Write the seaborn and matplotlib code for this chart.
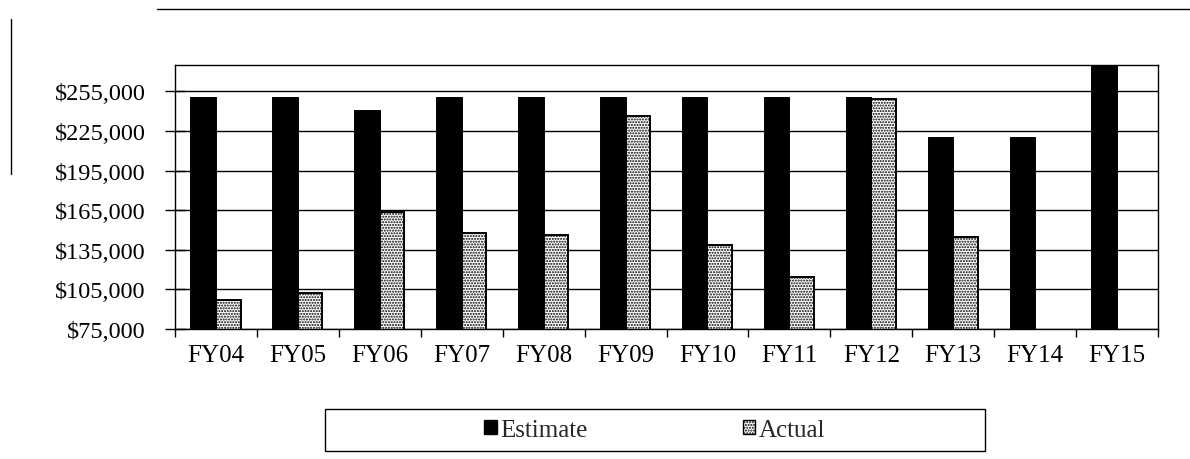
import numpy as np
import pandas as pd
import matplotlib
matplotlib.use("Agg")
import matplotlib.pyplot as plt
from matplotlib.patches import Patch, Rectangle
from matplotlib.lines import Line2D
from matplotlib.ticker import FuncFormatter
import seaborn as sns

# Budget estimate vs. actual spending by fiscal year
years = ["FY04", "FY05", "FY06", "FY07", "FY08", "FY09",
         "FY10", "FY11", "FY12", "FY13", "FY14", "FY15"]
estimate = [250000, 250000, 240000, 250000, 250000, 250000,
            250000, 250000, 250000, 220000, 220000, 275000]
actual = [97000, 102500, 163500, 148000, 146500, 236500,
          139000, 114500, 249000, 145000, np.nan, np.nan]
series_names = ["Estimate", "Actual"]
y_ticks = list(range(75000, 255001, 30000))

df = pd.DataFrame({
    "Year": years * 2,
    "Amount": estimate + actual,
    "Series": [series_names[0]] * len(years) + [series_names[1]] * len(years),
})

sns.set_style("white")
plt.rcParams["font.family"] = ["Liberation Serif", "DejaVu Serif"]
plt.rcParams["hatch.color"] = "black"
plt.rcParams["hatch.linewidth"] = 1.0

W, H = 1190, 460
fig = plt.figure(figsize=(W / 100, H / 100), dpi=100)
ax = fig.add_axes([175 / W, 1 - 330 / H, (1158 - 175) / W, (330 - 66) / H])

sns.barplot(data=df, x="Year", y="Amount", hue="Series", hue_order=series_names,
            palette={"Estimate": "black", "Actual": "white"}, width=0.6,
            edgecolor="black", linewidth=1.4, saturation=1, ax=ax, legend=False)

# dotted fill on the Actual bars
for bar in ax.containers[1]:
    bar.set_hatch("......")

ax.set_ylim(75000, 275000)
ax.set_xlim(-0.5, len(years) - 0.5)
ax.set_yticks(y_ticks)
ax.yaxis.set_major_formatter(FuncFormatter(lambda v, p: f"${int(v):,}"))
ax.set_xlabel("")
ax.set_ylabel("")

ax.yaxis.grid(True, color="black", linewidth=1.0)
ax.xaxis.grid(False)
ax.set_axisbelow(True)
for s in ax.spines.values():
    s.set_visible(True)
    s.set_color("black")
    s.set_linewidth(1.0)

ax.tick_params(axis="y", direction="inout", length=14, width=1, pad=14,
               labelsize=17.5, colors="black", left=True)
ax.tick_params(axis="x", which="major", length=0, pad=11, labelsize=18,
               colors="black")
ax.set_xticks(np.arange(-0.5, len(years), 1), minor=True)
ax.tick_params(axis="x", which="minor", direction="out", length=6, width=1,
               bottom=True, color="black")

# legend inside a wide framed box below the axes
handles = [Patch(facecolor="black", edgecolor="black"),
           Patch(facecolor="white", edgecolor="black", hatch="......")]
fig.legend(handles, series_names, loc="center",
           bbox_to_anchor=(655 / W, 1 - 431 / H), ncol=2, frameon=False,
           fontsize=18, handlelength=0.5, handleheight=0.5,
           handletextpad=0.15, columnspacing=6.2)
fig.add_artist(Rectangle((325 / W, 1 - 452 / H), 660 / W, 42 / H,
                         transform=fig.transFigure, fill=False,
                         edgecolor="black", linewidth=1.0))

# chart area border (top and left edges)
fig.add_artist(Line2D([157 / W, 1.0], [1 - 9.5 / H, 1 - 9.5 / H],
                      transform=fig.transFigure, color="black", linewidth=1.0))
fig.add_artist(Line2D([11 / W, 11 / W], [1 - 20 / H, 1 - 175 / H],
                      transform=fig.transFigure, color="black", linewidth=1.0))

fig.savefig("out.png", dpi=100, facecolor="white")
